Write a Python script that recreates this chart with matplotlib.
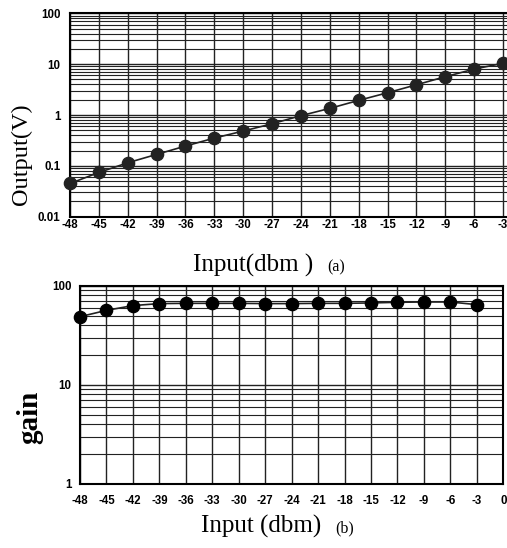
import matplotlib
matplotlib.use("Agg")
import matplotlib.pyplot as plt
from matplotlib.ticker import LogLocator, NullFormatter

input_dbm = [-48, -45, -42, -39, -36, -33, -30, -27, -24, -21, -18, -15, -12, -9, -6, -3]
output_v = [0.045, 0.074, 0.115, 0.168, 0.245, 0.352, 0.483, 0.673, 0.97, 1.35,
            1.94, 2.74, 3.93, 5.66, 8.0, 10.4]
gain = [48.7, 56.4, 63.0, 66.0, 66.4, 66.4, 66.4, 66.0, 66.0, 66.4,
        66.4, 67.0, 68.0, 68.5, 68.5, 64.4]

xticks = [-48, -45, -42, -39, -36, -33, -30, -27, -24, -21, -18, -15, -12, -9, -6, -3, 0]
yticks_a = [0.01, 0.1, 1, 10, 100]
ylabels_a = ["0.01", "0.1", "1", "10", "100"]
yticks_b = [1, 10, 100]
ylabels_b = ["1", "10", "100"]

W, H = 507, 548
fig = plt.figure(figsize=(W / 100, H / 100), dpi=100)

tick_font = dict(family="Liberation Sans", weight="bold", size=8.3)


def style(ax, yt, yl, xpad, ypad):
    ax.set_yscale("log")
    ax.set_xticks(xticks)
    ax.set_xticklabels([str(v) for v in xticks], **tick_font)
    ax.set_yticks(yt)
    ax.set_yticklabels(yl, **tick_font)
    ax.yaxis.set_minor_locator(LogLocator(base=10, subs=range(2, 10)))
    ax.yaxis.set_minor_formatter(NullFormatter())
    ax.tick_params(which="both", length=0)
    ax.tick_params(axis="x", pad=xpad)
    ax.tick_params(axis="y", pad=ypad)
    ax.grid(True, which="major", axis="both", color="#222222", lw=1.0)
    ax.grid(True, which="minor", axis="y", color="#222222", lw=0.8)
    for s in ax.spines.values():
        s.set_color("black")
        s.set_linewidth(1.5)
    ax.set_axisbelow(True)


# (a)
ax1 = fig.add_axes([70 / W, 1 - 216.7 / H, 461.9 / W, 203.4 / H])
ax1.plot(input_dbm, output_v, color="#222222", lw=1.2, marker="o", ms=8.8,
         mfc="#222222", mec="#222222", clip_on=False, zorder=3)
ax1.set_xlim(-48, 0)
ax1.set_ylim(0.01, 100)
style(ax1, yticks_a, ylabels_a, xpad=2, ypad=7)
fig.text(21 / W, 1 - 154 / H, "Output(V)", family="Liberation Serif", size=17.5,
         rotation=90, ha="center", va="center")
fig.text(253 / W, 1 - 265 / H, "Input(dbm )", family="Liberation Serif", size=18,
         ha="center", va="center")
fig.text(327 / W, 1 - 267 / H, "(a)", family="Liberation Serif", size=11.5,
         ha="left", va="center")

# (b)
ax2 = fig.add_axes([80 / W, 1 - 484 / H, 423.3 / W, 198.3 / H])
ax2.plot(input_dbm, gain, color="#222222", lw=1.2, marker="o", ms=8.8,
         mfc="black", mec="black", clip_on=False, zorder=3)
ax2.set_xlim(-48, 0)
ax2.set_ylim(1, 100)
style(ax2, yticks_b, ylabels_b, xpad=8, ypad=6)
fig.text(30 / W, 1 - 417 / H, "gain", family="Liberation Serif", weight="bold", size=21,
         rotation=90, ha="center", va="center")
fig.text(261 / W, 1 - 526 / H, "Input (dbm)", family="Liberation Serif", size=18,
         ha="center", va="center")
fig.text(335 / W, 1 - 528 / H, "(b)", family="Liberation Serif", size=11.5,
         ha="left", va="center")

fig.savefig("out.png", dpi=100)
